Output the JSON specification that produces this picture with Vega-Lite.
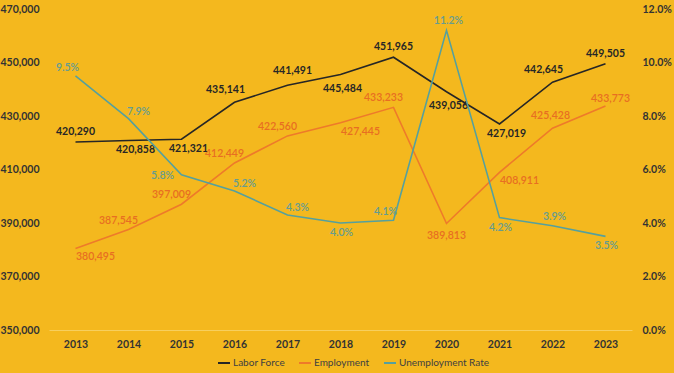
{
  "$schema": "https://vega.github.io/schema/vega-lite/v6.json",
  "width": 583,
  "height": 321,
  "autosize": {"type": "none"},
  "padding": {"left": 49, "top": 9, "right": 42, "bottom": 43},
  "background": "#F4B81E",
  "config": {
    "view": {"stroke": null},
    "font": "Lato",
    "text": {"font": "Lato", "baseline": "middle", "align": "center"}
  },
  "data": {
    "values": [
      {"series": "Labor Force", "year": "2013", "value": 420290},
      {"series": "Labor Force", "year": "2014", "value": 420858},
      {"series": "Labor Force", "year": "2015", "value": 421321},
      {"series": "Labor Force", "year": "2016", "value": 435141},
      {"series": "Labor Force", "year": "2017", "value": 441491},
      {"series": "Labor Force", "year": "2018", "value": 445484},
      {"series": "Labor Force", "year": "2019", "value": 451965},
      {"series": "Labor Force", "year": "2020", "value": 439056},
      {"series": "Labor Force", "year": "2021", "value": 427019},
      {"series": "Labor Force", "year": "2022", "value": 442645},
      {"series": "Labor Force", "year": "2023", "value": 449505},
      {"series": "Employment", "year": "2013", "value": 380495},
      {"series": "Employment", "year": "2014", "value": 387545},
      {"series": "Employment", "year": "2015", "value": 397009},
      {"series": "Employment", "year": "2016", "value": 412449},
      {"series": "Employment", "year": "2017", "value": 422560},
      {"series": "Employment", "year": "2018", "value": 427445},
      {"series": "Employment", "year": "2019", "value": 433233},
      {"series": "Employment", "year": "2020", "value": 389813},
      {"series": "Employment", "year": "2021", "value": 408911},
      {"series": "Employment", "year": "2022", "value": 425428},
      {"series": "Employment", "year": "2023", "value": 433773},
      {"series": "Unemployment Rate", "year": "2013", "value": 0.095},
      {"series": "Unemployment Rate", "year": "2014", "value": 0.079},
      {"series": "Unemployment Rate", "year": "2015", "value": 0.058},
      {"series": "Unemployment Rate", "year": "2016", "value": 0.052},
      {"series": "Unemployment Rate", "year": "2017", "value": 0.043},
      {"series": "Unemployment Rate", "year": "2018", "value": 0.040},
      {"series": "Unemployment Rate", "year": "2019", "value": 0.041},
      {"series": "Unemployment Rate", "year": "2020", "value": 0.112},
      {"series": "Unemployment Rate", "year": "2021", "value": 0.042},
      {"series": "Unemployment Rate", "year": "2022", "value": 0.039},
      {"series": "Unemployment Rate", "year": "2023", "value": 0.035}
    ]
  },
  "encoding": {
    "x": {
      "field": "year", "type": "ordinal",
      "scale": {"type": "point", "padding": 0.5},
      "axis": {"title": null, "labelAngle": 0, "ticks": false, "domainColor": "#F7CF5E", "domainWidth": 1, "labelPadding": 9, "labelFontWeight": "bold", "labelFontSize": 10.5, "labelColor": "#333333", "labelFont": "Lato"}
    }
  },
  "layer": [
    {
      "encoding": {
        "y": {
          "field": "value", "type": "quantitative",
          "scale": {"domain": [350000, 470000], "nice": false, "zero": false},
          "axis": {"title": null, "orient": "left", "values": [350000, 370000, 390000, 410000, 430000, 450000, 470000], "format": ",d", "grid": false, "ticks": false, "domain": false, "labelPadding": 10, "labelFontWeight": "bold", "labelFontSize": 10.5, "labelColor": "#333333", "labelFont": "Lato"}
        }
      },
      "layer": [
        {
          "transform": [{"filter": {"field": "series", "oneOf": ["Labor Force", "Employment"]}}],
          "mark": {"type": "line", "strokeWidth": 1.6},
          "encoding": {
            "color": {
              "field": "series", "type": "nominal",
              "scale": {"domain": ["Labor Force", "Employment", "Unemployment Rate"], "range": ["#262626", "#EE7A2A", "#55A09E"]},
              "legend": {"title": null, "orient": "none", "direction": "horizontal", "legendX": 168, "legendY": 347, "symbolType": "stroke", "symbolSize": 144, "symbolStrokeWidth": 2, "labelFontSize": 10, "labelColor": "#404040", "labelFont": "Lato", "labelOffset": 2, "columnPadding": 10}
            }
          }
        },
        {"transform": [{"filter": {"and": [{"field": "series", "equal": "Labor Force"}, {"field": "year", "oneOf": ["2013", "2019", "2023"]}]}}],
         "mark": {"type": "text", "dx": 0, "dy": -10, "fontWeight": "bold", "fontSize": 10.5, "color": "#262626"},
         "encoding": {"text": {"field": "value", "type": "quantitative", "format": ",d"}}},
        {"transform": [{"filter": {"and": [{"field": "series", "equal": "Labor Force"}, {"field": "year", "oneOf": ["2017"]}]}}],
         "mark": {"type": "text", "dx": 5, "dy": -14, "fontWeight": "bold", "fontSize": 10.5, "color": "#262626"},
         "encoding": {"text": {"field": "value", "type": "quantitative", "format": ",d"}}},
        {"transform": [{"filter": {"and": [{"field": "series", "equal": "Labor Force"}, {"field": "year", "oneOf": ["2016", "2022"]}]}}],
         "mark": {"type": "text", "dx": -9, "dy": -12, "fontWeight": "bold", "fontSize": 10.5, "color": "#262626"},
         "encoding": {"text": {"field": "value", "type": "quantitative", "format": ",d"}}},
        {"transform": [{"filter": {"and": [{"field": "series", "equal": "Labor Force"}, {"field": "year", "oneOf": ["2018", "2020"]}]}}],
         "mark": {"type": "text", "dx": 2, "dy": 14, "fontWeight": "bold", "fontSize": 10.5, "color": "#262626"},
         "encoding": {"text": {"field": "value", "type": "quantitative", "format": ",d"}}},
        {"transform": [{"filter": {"and": [{"field": "series", "equal": "Labor Force"}, {"field": "year", "oneOf": ["2014", "2015", "2021"]}]}}],
         "mark": {"type": "text", "dx": 7, "dy": 10, "fontWeight": "bold", "fontSize": 10.5, "color": "#262626"},
         "encoding": {"text": {"field": "value", "type": "quantitative", "format": ",d"}}},
        {"transform": [{"filter": {"and": [{"field": "series", "equal": "Employment"}, {"field": "year", "oneOf": ["2014", "2015", "2016", "2017", "2019"]}]}}],
         "mark": {"type": "text", "dx": -10, "dy": -9, "fontSize": 10.5, "fontWeight": 600, "color": "#E86E22"},
         "encoding": {"text": {"field": "value", "type": "quantitative", "format": ",d"}}},
        {"transform": [{"filter": {"and": [{"field": "series", "equal": "Employment"}, {"field": "year", "oneOf": ["2013", "2018", "2021"]}]}}],
         "mark": {"type": "text", "dx": 20, "dy": 9, "fontSize": 10.5, "fontWeight": 600, "color": "#E86E22"},
         "encoding": {"text": {"field": "value", "type": "quantitative", "format": ",d"}}},
        {"transform": [{"filter": {"and": [{"field": "series", "equal": "Employment"}, {"field": "year", "oneOf": ["2020"]}]}}],
         "mark": {"type": "text", "dx": 0, "dy": 12, "fontSize": 10.5, "fontWeight": 600, "color": "#E86E22"},
         "encoding": {"text": {"field": "value", "type": "quantitative", "format": ",d"}}},
        {"transform": [{"filter": {"and": [{"field": "series", "equal": "Employment"}, {"field": "year", "oneOf": ["2022"]}]}}],
         "mark": {"type": "text", "dx": -2, "dy": -12, "fontSize": 10.5, "fontWeight": 600, "color": "#E86E22"},
         "encoding": {"text": {"field": "value", "type": "quantitative", "format": ",d"}}},
        {"transform": [{"filter": {"and": [{"field": "series", "equal": "Employment"}, {"field": "year", "oneOf": ["2023"]}]}}],
         "mark": {"type": "text", "dx": 5, "dy": -7, "fontSize": 10.5, "fontWeight": 600, "color": "#E86E22"},
         "encoding": {"text": {"field": "value", "type": "quantitative", "format": ",d"}}}
      ]
    },
    {
      "transform": [{"filter": {"field": "series", "equal": "Unemployment Rate"}}],
      "encoding": {
        "y": {
          "field": "value", "type": "quantitative",
          "scale": {"domain": [0, 0.12], "nice": false},
          "axis": {"title": null, "orient": "right", "values": [0, 0.02, 0.04, 0.06, 0.08, 0.1, 0.12], "format": ".1%", "grid": false, "ticks": false, "domain": false, "labelPadding": 10, "labelFontWeight": "bold", "labelFontSize": 10.5, "labelColor": "#333333", "labelFont": "Lato"}
        }
      },
      "layer": [
        {"mark": {"type": "line", "strokeWidth": 1.6},
         "encoding": {"color": {"field": "series", "type": "nominal"}}},
        {"transform": [{"filter": {"field": "year", "oneOf": ["2013", "2019"]}}],
         "mark": {"type": "text", "dx": -8, "dy": -8, "fontSize": 10.5, "fontWeight": 600, "color": "#669C90"},
         "encoding": {"text": {"field": "value", "type": "quantitative", "format": ".1%"}}},
        {"transform": [{"filter": {"field": "year", "oneOf": ["2014", "2016", "2017"]}}],
         "mark": {"type": "text", "dx": 10, "dy": -7, "fontSize": 10.5, "fontWeight": 600, "color": "#669C90"},
         "encoding": {"text": {"field": "value", "type": "quantitative", "format": ".1%"}}},
        {"transform": [{"filter": {"field": "year", "oneOf": ["2015"]}}],
         "mark": {"type": "text", "dx": -19, "dy": 1, "fontSize": 10.5, "fontWeight": 600, "color": "#669C90"},
         "encoding": {"text": {"field": "value", "type": "quantitative", "format": ".1%"}}},
        {"transform": [{"filter": {"field": "year", "oneOf": ["2018", "2021", "2023"]}}],
         "mark": {"type": "text", "dx": 1, "dy": 10, "fontSize": 10.5, "fontWeight": 600, "color": "#669C90"},
         "encoding": {"text": {"field": "value", "type": "quantitative", "format": ".1%"}}},
        {"transform": [{"filter": {"field": "year", "oneOf": ["2020", "2022"]}}],
         "mark": {"type": "text", "dx": 2, "dy": -9, "fontSize": 10.5, "fontWeight": 600, "color": "#669C90"},
         "encoding": {"text": {"field": "value", "type": "quantitative", "format": ".1%"}}}
      ]
    }
  ],
  "resolve": {"scale": {"y": "independent"}}
}
